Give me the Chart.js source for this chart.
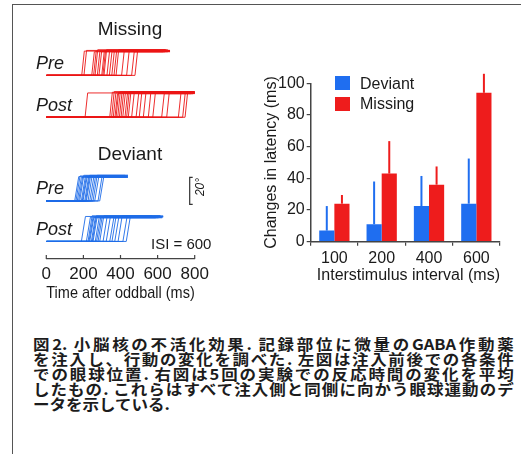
<!DOCTYPE html>
<html>
<head>
<meta charset="utf-8">
<script src="https://cdn.jsdelivr.net/npm/chart.js@4.4.1/dist/chart.umd.min.js"></script>
<style>
  html, body { margin: 0; padding: 0; background: #fff; }
  body {
    width: 521px; height: 454px; position: relative; overflow: hidden;
    font-family: "Liberation Sans", Arial, sans-serif; color: #1a1a1a;
  }
  .frame-top { position: absolute; left: 12px; top: 4px; right: 0; border-top: 1.5px solid #555; }
  .frame-left { position: absolute; left: 12px; top: 4px; bottom: 0; border-left: 1.5px solid #555; }
  canvas { position: absolute; }
  #traces { left: 0; top: 0; }
  #latency { left: 250px; top: 60px; }
  .lbl { position: absolute; white-space: nowrap; line-height: 1; }
  .title { font-size: 19px; transform: translate(-50%, -50%); }
  .cond { font-size: 18px; font-style: italic; transform: translateY(-50%); }
  .isi { font-size: 15px; transform: translateY(-50%); }
  .deg { font-size: 12px; font-style: italic; transform: translate(-50%, -50%) rotate(-90deg); }
  .legend-box { position: absolute; width: 15px; height: 14px; }
  .legend-txt { position: absolute; font-size: 16px; line-height: 1; transform: translateY(-50%); }
  .caption {
    position: absolute; left: 33px; top: 336px; width: 437px;
    transform: scaleX(1.1); transform-origin: 0 0;
    font-family: "Noto Sans CJK JP", "Noto Sans CJK SC", sans-serif;
    font-size: 15px; line-height: 15px; font-weight: bold;
    color: #1c1c1c;
  }
  .caption div { white-space: nowrap; text-align: justify; text-align-last: justify; }
  .caption div.last { text-align: left; text-align-last: left; }
</style>
</head>
<body>
<div class="frame-top"></div>
<div class="frame-left"></div>

<canvas id="traces" width="250" height="310"></canvas>
<canvas id="latency" width="265" height="230"></canvas>

<div class="lbl title" style="left:130px; top:28px;">Missing</div>
<div class="lbl title" style="left:130px; top:153px;">Deviant</div>
<div class="lbl cond" style="left:36px; top:63px;">Pre</div>
<div class="lbl cond" style="left:36px; top:105px;">Post</div>
<div class="lbl cond" style="left:36px; top:188px;">Pre</div>
<div class="lbl cond" style="left:36px; top:229px;">Post</div>
<div class="lbl isi" style="left:151px; top:243px;">ISI = 600</div>
<div class="lbl deg" style="left:200px; top:187px;">20°</div>

<div class="legend-box" style="left:335px; top:76px; background:#1f6ef0;"></div>
<div class="legend-txt" style="left:360px; top:84px;">Deviant</div>
<div class="legend-box" style="left:335px; top:97px; background:#ee1c1c;"></div>
<div class="legend-txt" style="left:360px; top:104px;">Missing</div>

<div class="caption">
  <div>図2. 小脳核の不活化効果. 記録部位に微量のGABA作動薬</div>
  <div>を注入し、行動の変化を調べた. 左図は注入前後での各条件</div>
  <div>での眼球位置. 右図は5回の実験での反応時間の変化を平均</div>
  <div>したもの. これらはすべて注入側と同側に向かう眼球運動のデ</div>
  <div class="last">ータを示している.</div>
</div>

<script>
// ---- Latency changes (ms), mean and upper error per interstimulus interval ----
const intervals = ['100', '200', '400', '600'];
const deviantLatency = [7, 11, 22.5, 24];
const missingLatency = [24, 43, 36, 94];
const deviantError = [15.5, 27, 19, 28.5];
const missingError = [5.5, 20.5, 11.5, 12];
const latencyTicks = [0, 20, 40, 60, 80, 100];

// ---- Eye-position traces: saccade onset, trace end (ms after oddball) and amplitude (deg) ----
const missingPreOnset = [191, 203, 245, 255, 263, 275, 284, 299, 305, 311, 327, 340, 353, 365, 376, 406, 433, 460, 478];
const missingPreEnd   = [650, 667, 640, 660, 655, 667, 630, 662, 667, 645, 658, 667, 650, 667, 640, 660, 667, 655, 667];
const missingPreAmp   = [18, 18.5, 17.5, 18, 19, 18, 17.5, 18.5, 18, 19, 18, 17.5, 18.5, 18, 19, 18, 18.5, 17.5, 18];
const missingPostOnset = [209, 342, 352, 361, 370, 376, 385, 394, 403, 412, 424, 433, 442, 460, 484, 501, 523, 550, 574, 622, 649, 712, 735, 748];
const missingPostEnd   = [780, 800, 811, 760, 790, 805, 740, 811, 795, 780, 811, 800, 770, 811, 805, 795, 811, 800, 811, 790, 805, 800, 811, 811];
const missingPostAmp   = [18, 18.5, 19, 18, 17.5, 18.5, 19, 18, 18.5, 17.5, 18, 19, 18.5, 18, 17.5, 18.5, 18, 19, 18, 17.5, 18.5, 18, 18, 18.5];
const deviantPreOnset = [153, 160, 167, 174, 180, 189, 194, 198, 207, 212, 216, 225, 234, 243, 252, 261, 279, 288];
const deviantPreEnd   = [420, 440, 430, 410, 440, 425, 435, 440, 415, 440, 430, 420, 440, 435, 425, 440, 430, 440];
const deviantPreAmp   = [18, 18.5, 17.5, 18, 19, 18.5, 18, 17.5, 18.5, 19, 18, 18.5, 17.5, 18, 19, 18, 18.5, 18];
const deviantPostOnset = [189, 216, 225, 230, 234, 243, 248, 252, 264, 271, 279, 288, 306, 323, 342, 354, 369, 387, 413, 431];
const deviantPostEnd   = [600, 630, 570, 620, 590, 610, 630, 580, 600, 625, 560, 615, 630, 590, 605, 620, 600, 615, 625, 630];
const deviantPostAmp   = [18.5, 18, 19, 18, 17.5, 18.5, 19, 18, 18.5, 17.5, 18, 19, 18.5, 18, 17.5, 18.5, 18, 19, 18, 18.5];
const scaleBarDeg = 20;            // calibration bar
const timeTicks = [0, 200, 400, 600, 800];

const BLUE = '#1f6ef0';
const RED = '#ee1c1c';
const AXIS = '#444';
const FONT = '"Liberation Sans", Arial, sans-serif';

Chart.defaults.font.family = FONT;
Chart.defaults.color = '#1a1a1a';

// ---------- Eye-position traces ----------
const TRACE_RED = 'rgba(235,22,22,0.9)';
const TRACE_BLUE = 'rgba(30,108,232,0.9)';
const rows = [
  { onset: missingPreOnset,  end: missingPreEnd,  amp: missingPreAmp,  base: 123, color: TRACE_RED,  ramp: 14 },
  { onset: missingPostOnset, end: missingPostEnd, amp: missingPostAmp, base: 92,  color: TRACE_RED,  ramp: 14 },
  { onset: deviantPreOnset,  end: deviantPreEnd,  amp: deviantPreAmp,  base: 30,  color: TRACE_BLUE, ramp: 22 },
  { onset: deviantPostOnset, end: deviantPostEnd, amp: deviantPostAmp, base: 0,   color: TRACE_BLUE, ramp: 22 }
];

const traceSets = [];
rows.forEach(row => {
  row.onset.forEach((t, i) => {
    traceSets.push({
      data: [
        { x: 0, y: row.base },
        { x: t, y: row.base },
        { x: t + row.ramp, y: row.base + row.amp[i] },
        { x: row.end[i], y: row.base + row.amp[i] }
      ],
      borderColor: row.color,
      borderWidth: 1,
      pointRadius: 0,
      tension: 0,
      fill: false
    });
  });
});

// small upward tick marks on the time axis plus the 20° calibration bracket
const traceExtras = {
  id: 'traceExtras',
  afterDraw(chart) {
    const { ctx, scales: { x, y } } = chart;
    const axisY = chart.chartArea.bottom;
    ctx.save();
    ctx.strokeStyle = AXIS;
    ctx.lineWidth = 1.2;
    timeTicks.forEach(v => {
      const px = x.getPixelForValue(v);
      ctx.beginPath();
      ctx.moveTo(px, axisY);
      ctx.lineTo(px, axisY - 4);
      ctx.stroke();
    });
    const bx = x.getPixelForValue(773);
    const y0 = y.getPixelForValue(27.5);
    const y1 = y.getPixelForValue(27.5 + scaleBarDeg);
    ctx.strokeStyle = '#333';
    ctx.lineWidth = 1.2;
    ctx.beginPath();
    ctx.moveTo(bx + 3, y1);
    ctx.lineTo(bx, y1);
    ctx.lineTo(bx, y0);
    ctx.lineTo(bx + 3, y0);
    ctx.stroke();
    ctx.restore();
  }
};

new Chart(document.getElementById('traces'), {
  type: 'line',
  data: { datasets: traceSets },
  options: {
    responsive: false,
    animation: false,
    devicePixelRatio: 1,
    layout: { padding: { top: 43, left: 46.3, right: 55.3, bottom: 0 } },
    plugins: { legend: { display: false }, tooltip: { enabled: false } },
    scales: {
      x: {
        type: 'linear',
        min: 0, max: 800,
        afterBuildTicks: s => { s.ticks = timeTicks.map(v => ({ value: v })); },
        afterFit: s => { s.height = 51; },
        grid: { display: false, drawTicks: false },
        border: { display: true, color: AXIS, width: 1.2 },
        ticks: { font: { size: 17 }, padding: 5, maxRotation: 0 },
        title: { display: true, text: 'Time after oddball (ms)', font: { size: 17 }, padding: { top: 0, bottom: 6 } }
      },
      y: { type: 'linear', min: -13, max: 147, display: false }
    }
  },
  plugins: [traceExtras]
});

// ---------- Latency bar chart ----------
const errorBars = {
  id: 'errorBars',
  afterDatasetsDraw(chart) {
    const { ctx } = chart;
    const yScale = chart.scales.y;
    chart.data.datasets.forEach((ds, di) => {
      const meta = chart.getDatasetMeta(di);
      ctx.save();
      ctx.strokeStyle = ds.backgroundColor;
      ctx.lineWidth = 2;
      meta.data.forEach((bar, i) => {
        const top = yScale.getPixelForValue(ds.data[i] + ds.errorPlus[i]);
        ctx.beginPath();
        ctx.moveTo(bar.x, bar.y);
        ctx.lineTo(bar.x, top);
        ctx.stroke();
      });
      ctx.restore();
    });
  }
};

new Chart(document.getElementById('latency'), {
  type: 'bar',
  data: {
    labels: intervals,
    datasets: [
      { label: 'Deviant', data: deviantLatency, errorPlus: deviantError, backgroundColor: BLUE,
        categoryPercentage: 0.64, barPercentage: 1 },
      { label: 'Missing', data: missingLatency, errorPlus: missingError, backgroundColor: RED,
        categoryPercentage: 0.64, barPercentage: 1 }
    ]
  },
  options: {
    responsive: false,
    animation: false,
    devicePixelRatio: 1,
    layout: { padding: { top: 23.3, right: 15, left: 0, bottom: 0 } },
    plugins: { legend: { display: false }, tooltip: { enabled: false } },
    scales: {
      x: {
        afterFit: s => { s.height = 48.3; },
        grid: { drawOnChartArea: false, drawTicks: true, tickLength: 4, color: AXIS, lineWidth: 1.2 },
        border: { display: true, color: AXIS, width: 1.5 },
        ticks: { font: { size: 16 }, padding: 3 },
        title: { display: true, align: 'end', text: 'Interstimulus interval (ms)', font: { size: 16 }, padding: { top: 0, bottom: 4.4 } }
      },
      y: {
        min: 0, max: 100,
        afterBuildTicks: s => { s.ticks = latencyTicks.map(v => ({ value: v })); },
        afterFit: s => { s.width = 60.7; },
        grid: { drawOnChartArea: false, drawTicks: true, tickLength: 4, color: AXIS, lineWidth: 1.2 },
        border: { display: true, color: AXIS, width: 1.5 },
        ticks: { font: { size: 16 }, padding: 2 },
        title: { display: true, text: 'Changes in latency (ms)', font: { size: 16 }, padding: { top: 12, bottom: 0 } }
      }
    }
  },
  plugins: [errorBars]
});
</script>
</body>
</html>
